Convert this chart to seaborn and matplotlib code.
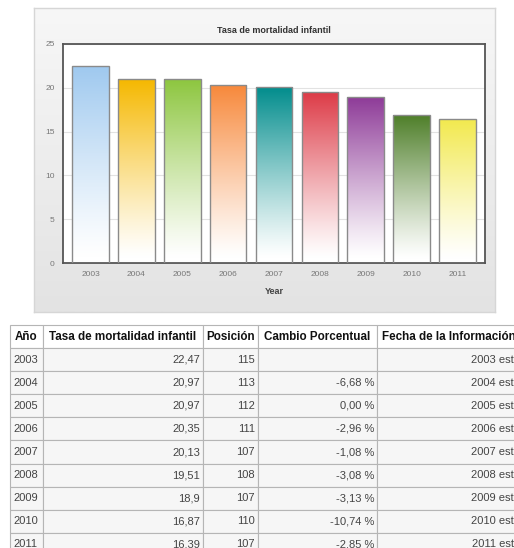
import numpy as np
import matplotlib
matplotlib.use("Agg")
import matplotlib.pyplot as plt
import seaborn as sns
from matplotlib.colors import to_rgb

# Data
years = ["2003", "2004", "2005", "2006", "2007", "2008", "2009", "2010", "2011"]
tasa = [22.47, 20.97, 20.97, 20.35, 20.13, 19.51, 18.9, 16.87, 16.39]
tasa_txt = ["22,47", "20,97", "20,97", "20,35", "20,13", "19,51", "18,9", "16,87", "16,39"]
posicion = ["115", "113", "112", "111", "107", "108", "107", "110", "107"]
cambio = ["", "-6,68 %", "0,00 %", "-2,96 %", "-1,08 %", "-3,08 %", "-3,13 %", "-10,74 %", "-2,85 %"]
fecha = ["2003 est.", "2004 est.", "2005 est.", "2006 est.", "2007 est.",
         "2008 est.", "2009 est.", "2010 est.", "2011 est."]
headers = ["Año", "Tasa de mortalidad infantil", "Posición", "Cambio Porcentual",
           "Fecha de la Información"]
bar_colors = ["#9fc9ef", "#f5b800", "#8dc63f", "#f7883a", "#008c8c",
              "#dd3b47", "#8e3b98", "#4f7f2a", "#f2e94e"]

W, H = 514, 548


def main():
    sns.set_style("white")
    plt.rcParams["font.family"] = ["Liberation Sans", "DejaVu Sans"]

    fig = plt.figure(figsize=(W / 100, H / 100), dpi=100)
    fig.patch.set_facecolor("white")

    # grey chart panel behind the plot
    pan = fig.add_axes([34 / W, 1 - 312 / H, 461 / W, 304 / H])
    g = np.linspace(0, 1, 200)[:, None]
    top, bot = np.array(to_rgb("#f7f7f7")), np.array(to_rgb("#e3e3e3"))
    pan.imshow((1 - g)[..., None] * top + g[..., None] * bot,
               extent=[0, 1, 0, 1], aspect="auto")
    pan.set_xticks([])
    pan.set_yticks([])
    for s in pan.spines.values():
        s.set_color("#d6d6d6")
        s.set_linewidth(1)

    # bar chart
    ax = fig.add_axes([63 / W, 1 - 263 / H, 422 / W, 219 / H])
    sns.barplot(x=years, y=tasa, hue=years, palette=bar_colors, legend=False,
                width=0.8, ax=ax)

    # vertical colour-to-white gradient inside each bar
    t = np.linspace(0, 1, 256)[:, None]
    k = np.clip((t - 0.03) / 0.97, 0, 1) ** 1.15
    for patch, col in zip(ax.patches, bar_colors):
        x, w, h = patch.get_x(), patch.get_width(), patch.get_height()
        rgb = np.array(to_rgb(col))
        img = (1 - k)[..., None] * np.ones(3) + k[..., None] * rgb
        im = ax.imshow(img, extent=[x, x + w, 0, h], origin="lower",
                       aspect="auto", zorder=2)
        im.set_clip_path(patch)
        patch.set_facecolor("none")
        patch.set_edgecolor("#8a8a8a")
        patch.set_linewidth(1.0)
        patch.set_zorder(3)

    ax.set_xlim(-0.6, 8.6)
    ax.set_ylim(0, 25)
    ax.set_yticks([0, 5, 10, 15, 20, 25])
    ax.set_facecolor("white")
    ax.yaxis.grid(True, color="#e2e2e2", lw=0.8)
    ax.set_axisbelow(True)
    for s in ax.spines.values():
        s.set_visible(True)
        s.set_color("#555555")
        s.set_linewidth(1.3)
    ax.tick_params(axis="both", labelsize=6, colors="#777777", length=2, pad=4)
    ax.set_title("Tasa de mortalidad infantil", fontsize=6.5, fontweight="bold",
                 color="#333333", pad=8)
    ax.set_xlabel("Year", fontsize=6.5, fontweight="bold", color="#444444", labelpad=6)
    ax.set_ylabel("")

    # data table under the chart (runs off the right and bottom edges)
    col_px = [33, 160, 55, 119, 143]
    tax = fig.add_axes([10 / W, 1 - 556 / H, sum(col_px) / W, 231 / H])
    tax.axis("off")
    rows = [list(r) for r in zip(years, tasa_txt, posicion, cambio, fecha)]
    tbl = tax.table(cellText=rows, colLabels=headers,
                    colWidths=[c / sum(col_px) for c in col_px],
                    cellLoc="right", bbox=[0, 0, 1, 1])
    tbl.auto_set_font_size(False)
    for (r, c), cell in tbl.get_celld().items():
        cell.set_edgecolor("#b5b5b5")
        cell.set_linewidth(0.8)
        cell.PAD = 3 / col_px[c]
        txt = cell.get_text()
        if r == 0:
            cell.set_facecolor("white")
            cell._loc = "center"
            txt.set_ha("center")
            txt.set_fontsize(8.4)
            txt.set_fontweight("bold")
            txt.set_color("#111111")
        else:
            cell.set_facecolor("#f6f6f6")
            txt.set_fontsize(8)
            txt.set_color("#444444")
            if c == 0:
                cell._loc = "left"
                txt.set_ha("left")

    fig.savefig("out.png", dpi=100)


if __name__ == "__main__":
    main()
